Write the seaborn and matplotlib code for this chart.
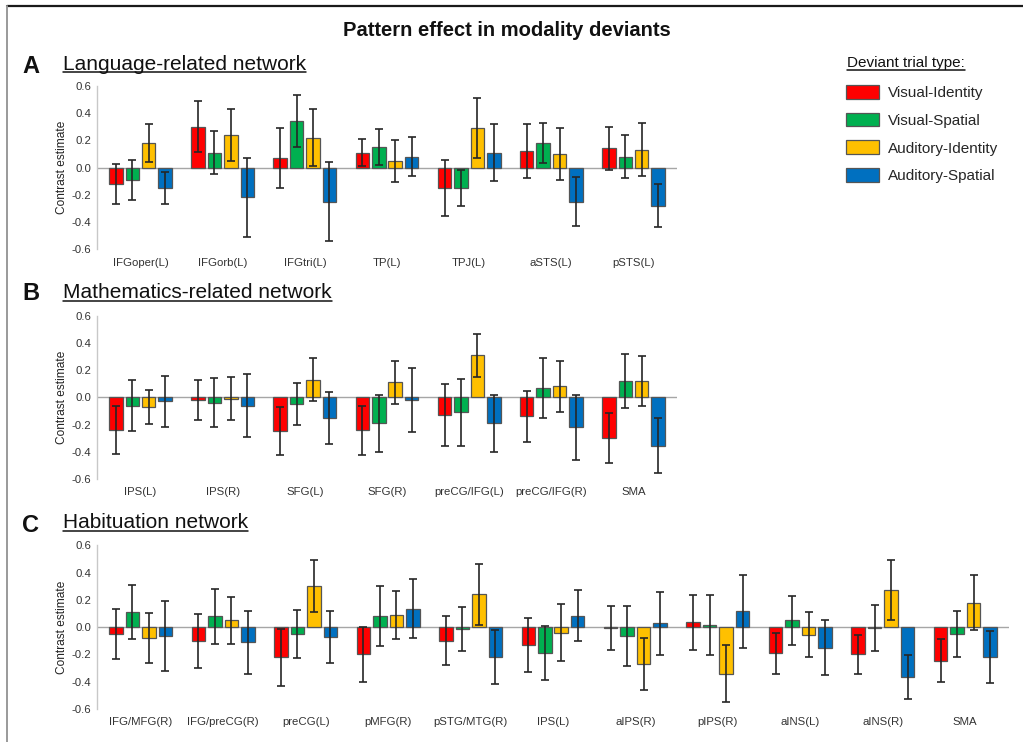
import numpy as np
import pandas as pd
import matplotlib
matplotlib.use("Agg")
import matplotlib.pyplot as plt
from matplotlib.lines import Line2D
import seaborn as sns

# ---------------------------------------------------------------- data
trial_types = ["Visual-Identity", "Visual-Spatial", "Auditory-Identity", "Auditory-Spatial"]
type_colors = ["#FF0000", "#00B050", "#FFC000", "#0070C0"]

# A: language-related network
lang_regions = ["IFGoper(L)", "IFGorb(L)", "IFGtri(L)", "TP(L)", "TPJ(L)", "aSTS(L)", "pSTS(L)"]
lang_vis_id = [-0.12, 0.30, 0.07, 0.11, -0.15, 0.12, 0.14]
lang_vis_sp = [-0.09, 0.11, 0.34, 0.15, -0.15, 0.18, 0.08]
lang_aud_id = [0.18, 0.24, 0.22, 0.05, 0.29, 0.10, 0.13]
lang_aud_sp = [-0.15, -0.22, -0.25, 0.08, 0.11, -0.25, -0.28]
lang_vis_id_se = [0.145, 0.185, 0.22, 0.10, 0.205, 0.20, 0.16]
lang_vis_sp_se = [0.147, 0.16, 0.19, 0.13, 0.13, 0.144, 0.157]
lang_aud_id_se = [0.14, 0.19, 0.21, 0.155, 0.22, 0.19, 0.194]
lang_aud_sp_se = [0.117, 0.29, 0.29, 0.143, 0.21, 0.18, 0.157]

# B: mathematics-related network
math_regions = ["IPS(L)", "IPS(R)", "SFG(L)", "SFG(R)", "preCG/IFG(L)", "preCG/IFG(R)", "SMA"]
math_vis_id = [-0.24, -0.02, -0.25, -0.24, -0.13, -0.14, -0.30]
math_vis_sp = [-0.06, -0.04, -0.05, -0.19, -0.11, 0.07, 0.12]
math_aud_id = [-0.07, -0.01, 0.13, 0.11, 0.31, 0.08, 0.12]
math_aud_sp = [-0.03, -0.06, -0.15, -0.02, -0.19, -0.22, -0.355]
math_vis_id_se = [0.178, 0.144, 0.176, 0.18, 0.228, 0.19, 0.186]
math_vis_sp_se = [0.185, 0.18, 0.155, 0.21, 0.246, 0.22, 0.20]
math_aud_id_se = [0.125, 0.16, 0.157, 0.158, 0.157, 0.19, 0.185]
math_aud_sp_se = [0.19, 0.23, 0.19, 0.234, 0.21, 0.24, 0.20]

# C: habituation network
hab_regions = ["IFG/MFG(R)", "IFG/preCG(R)", "preCG(L)", "pMFG(R)", "pSTG/MTG(R)", "IPS(L)",
               "aIPS(R)", "pIPS(R)", "aINS(L)", "aINS(R)", "SMA"]
hab_vis_id = [-0.05, -0.10, -0.22, -0.20, -0.10, -0.13, -0.005, 0.035, -0.19, -0.20, -0.245]
hab_vis_sp = [0.11, 0.08, -0.05, 0.08, -0.015, -0.19, -0.065, 0.017, 0.05, -0.007, -0.05]
hab_aud_id = [-0.08, 0.05, 0.30, 0.09, 0.24, -0.04, -0.27, -0.34, -0.055, 0.275, 0.18]
hab_aud_sp = [-0.065, -0.11, -0.075, 0.135, -0.22, 0.085, 0.027, 0.115, -0.15, -0.365, -0.22]
hab_vis_id_se = [0.186, 0.20, 0.21, 0.20, 0.18, 0.20, 0.16, 0.20, 0.15, 0.14, 0.156]
hab_vis_sp_se = [0.196, 0.20, 0.175, 0.22, 0.16, 0.196, 0.22, 0.22, 0.18, 0.166, 0.168]
hab_aud_id_se = [0.186, 0.17, 0.19, 0.175, 0.223, 0.21, 0.19, 0.207, 0.165, 0.22, 0.20]
hab_aud_sp_se = [0.26, 0.23, 0.19, 0.216, 0.197, 0.19, 0.23, 0.267, 0.20, 0.16, 0.19]

y_ticks = [-0.6, -0.4, -0.2, 0.0, 0.2, 0.4, 0.6]

# ---------------------------------------------------------------- style
sns.set_style("white")
plt.rcParams["font.family"] = ["Liberation Sans", "DejaVu Sans"]

W, H = 1023, 742
fig = plt.figure(figsize=(W / 100, H / 100), dpi=100)


def fx(x):
    return x / W


def fy(y):
    return 1 - y / H


def px_axes(left, top, right, bottom):
    return fig.add_axes([fx(left), fy(bottom), (right - left) / W, (bottom - top) / H])


def draw_panel(ax, regions, means, ses, show_legend=False):
    rows = []
    for t, vals in zip(trial_types, means):
        for r, v in zip(regions, vals):
            rows.append({"region": r, "type": t, "value": v})
    df = pd.DataFrame(rows)
    ax.axhline(0, color="#a6a6a6", lw=1.0, zorder=0)
    sns.barplot(data=df, x="region", y="value", hue="type", order=regions,
                hue_order=trial_types, palette=type_colors, saturation=1,
                width=0.8, gap=0.18, edgecolor="#555555", linewidth=0.9,
                errorbar=None, legend=show_legend, ax=ax, zorder=2)
    for container, vals, se in zip(ax.containers, means, ses):
        xs = [b.get_x() + b.get_width() / 2 for b in container]
        ax.errorbar(xs, vals, yerr=se, fmt="none", ecolor="#262626",
                    elinewidth=1.2, capsize=2.6, capthick=1.2, zorder=3)
    n = len(regions)
    ax.set_xlim(-0.53, n - 0.47)
    ax.set_ylim(-0.6, 0.6)
    ax.set_yticks(y_ticks)
    ax.set_yticklabels([f"{t:.1f}" for t in y_ticks])
    for side in ("top", "right", "bottom"):
        ax.spines[side].set_visible(False)
    ax.spines["left"].set_color("#c8c8c8")
    ax.spines["left"].set_linewidth(1.0)
    ax.tick_params(axis="y", length=0, pad=4, labelsize=8.2, labelcolor="#333333")
    ax.tick_params(axis="x", length=0, pad=6, labelsize=8.2, labelcolor="#333333")
    ax.set_xlabel("")
    ax.set_ylabel("Contrast estimate", fontsize=8.6, color="#222222")
    ax.patch.set_alpha(0)


ax_a = px_axes(97, 85.7, 677, 249.3)
ax_b = px_axes(97, 315.7, 677, 479.0)
ax_c = px_axes(97, 545.3, 1009, 709.0)

draw_panel(ax_a, lang_regions, [lang_vis_id, lang_vis_sp, lang_aud_id, lang_aud_sp],
           [lang_vis_id_se, lang_vis_sp_se, lang_aud_id_se, lang_aud_sp_se], show_legend=True)
draw_panel(ax_b, math_regions, [math_vis_id, math_vis_sp, math_aud_id, math_aud_sp],
           [math_vis_id_se, math_vis_sp_se, math_aud_id_se, math_aud_sp_se])
draw_panel(ax_c, hab_regions, [hab_vis_id, hab_vis_sp, hab_aud_id, hab_aud_sp],
           [hab_vis_id_se, hab_vis_sp_se, hab_aud_id_se, hab_aud_sp_se])

for ax, width_px in ((ax_a, 580), (ax_b, 580), (ax_c, 912)):
    ax.yaxis.set_label_coords((68 - 97) / width_px, 0.5)

# legend placed in the upper-right corner of the figure
sns.move_legend(ax_a, "upper left", bbox_to_anchor=(fx(845.7), fy(85)),
                bbox_transform=fig.transFigure, title=None, frameon=False,
                fontsize=11, handlelength=2.2, handleheight=1.0,
                handletextpad=0.58, labelspacing=0.83, borderpad=0, borderaxespad=0)

# ---------------------------------------------------------------- texts
fig.text(fx(507), fy(36), "Pattern effect in modality deviants", ha="center",
         va="baseline", fontsize=14.5, fontweight="bold", color="#111111")

underlined = []
headings = [("A", "Language-related network", 72.7, 69.5),
            ("B", "Mathematics-related network", 300.0, 298.3),
            ("C", "Habituation network", 531.5, 528.3)]
for letter, label, letter_base, text_base in headings:
    fig.text(fx(22), fy(letter_base), letter, fontsize=17, fontweight="bold",
             va="baseline", ha="left", color="#111111")
    t = fig.text(fx(63), fy(text_base), label, fontsize=15, va="baseline",
                 ha="left", color="#111111")
    underlined.append((t, text_base + 2.2))

leg_title = fig.text(fx(847), fy(67.5), "Deviant trial type:", fontsize=11,
                     va="baseline", ha="left", color="#111111")
underlined.append((leg_title, 67.5 + 2.0))

fig.canvas.draw()
renderer = fig.canvas.get_renderer()
for t, y_line in underlined:
    bb = t.get_window_extent(renderer)
    fig.add_artist(Line2D([bb.x0 / W, bb.x1 / W], [fy(y_line)] * 2,
                          transform=fig.transFigure, color="#111111", lw=1.1))

# figure frame
fig.add_artist(Line2D([fx(7), 1.0], [fy(6)] * 2, transform=fig.transFigure,
                      color="#1a1a1a", lw=1.6))
fig.add_artist(Line2D([fx(7)] * 2, [0.0, fy(6)], transform=fig.transFigure,
                      color="#9a9a9a", lw=1.4))

fig.savefig("out.png", dpi=100)
